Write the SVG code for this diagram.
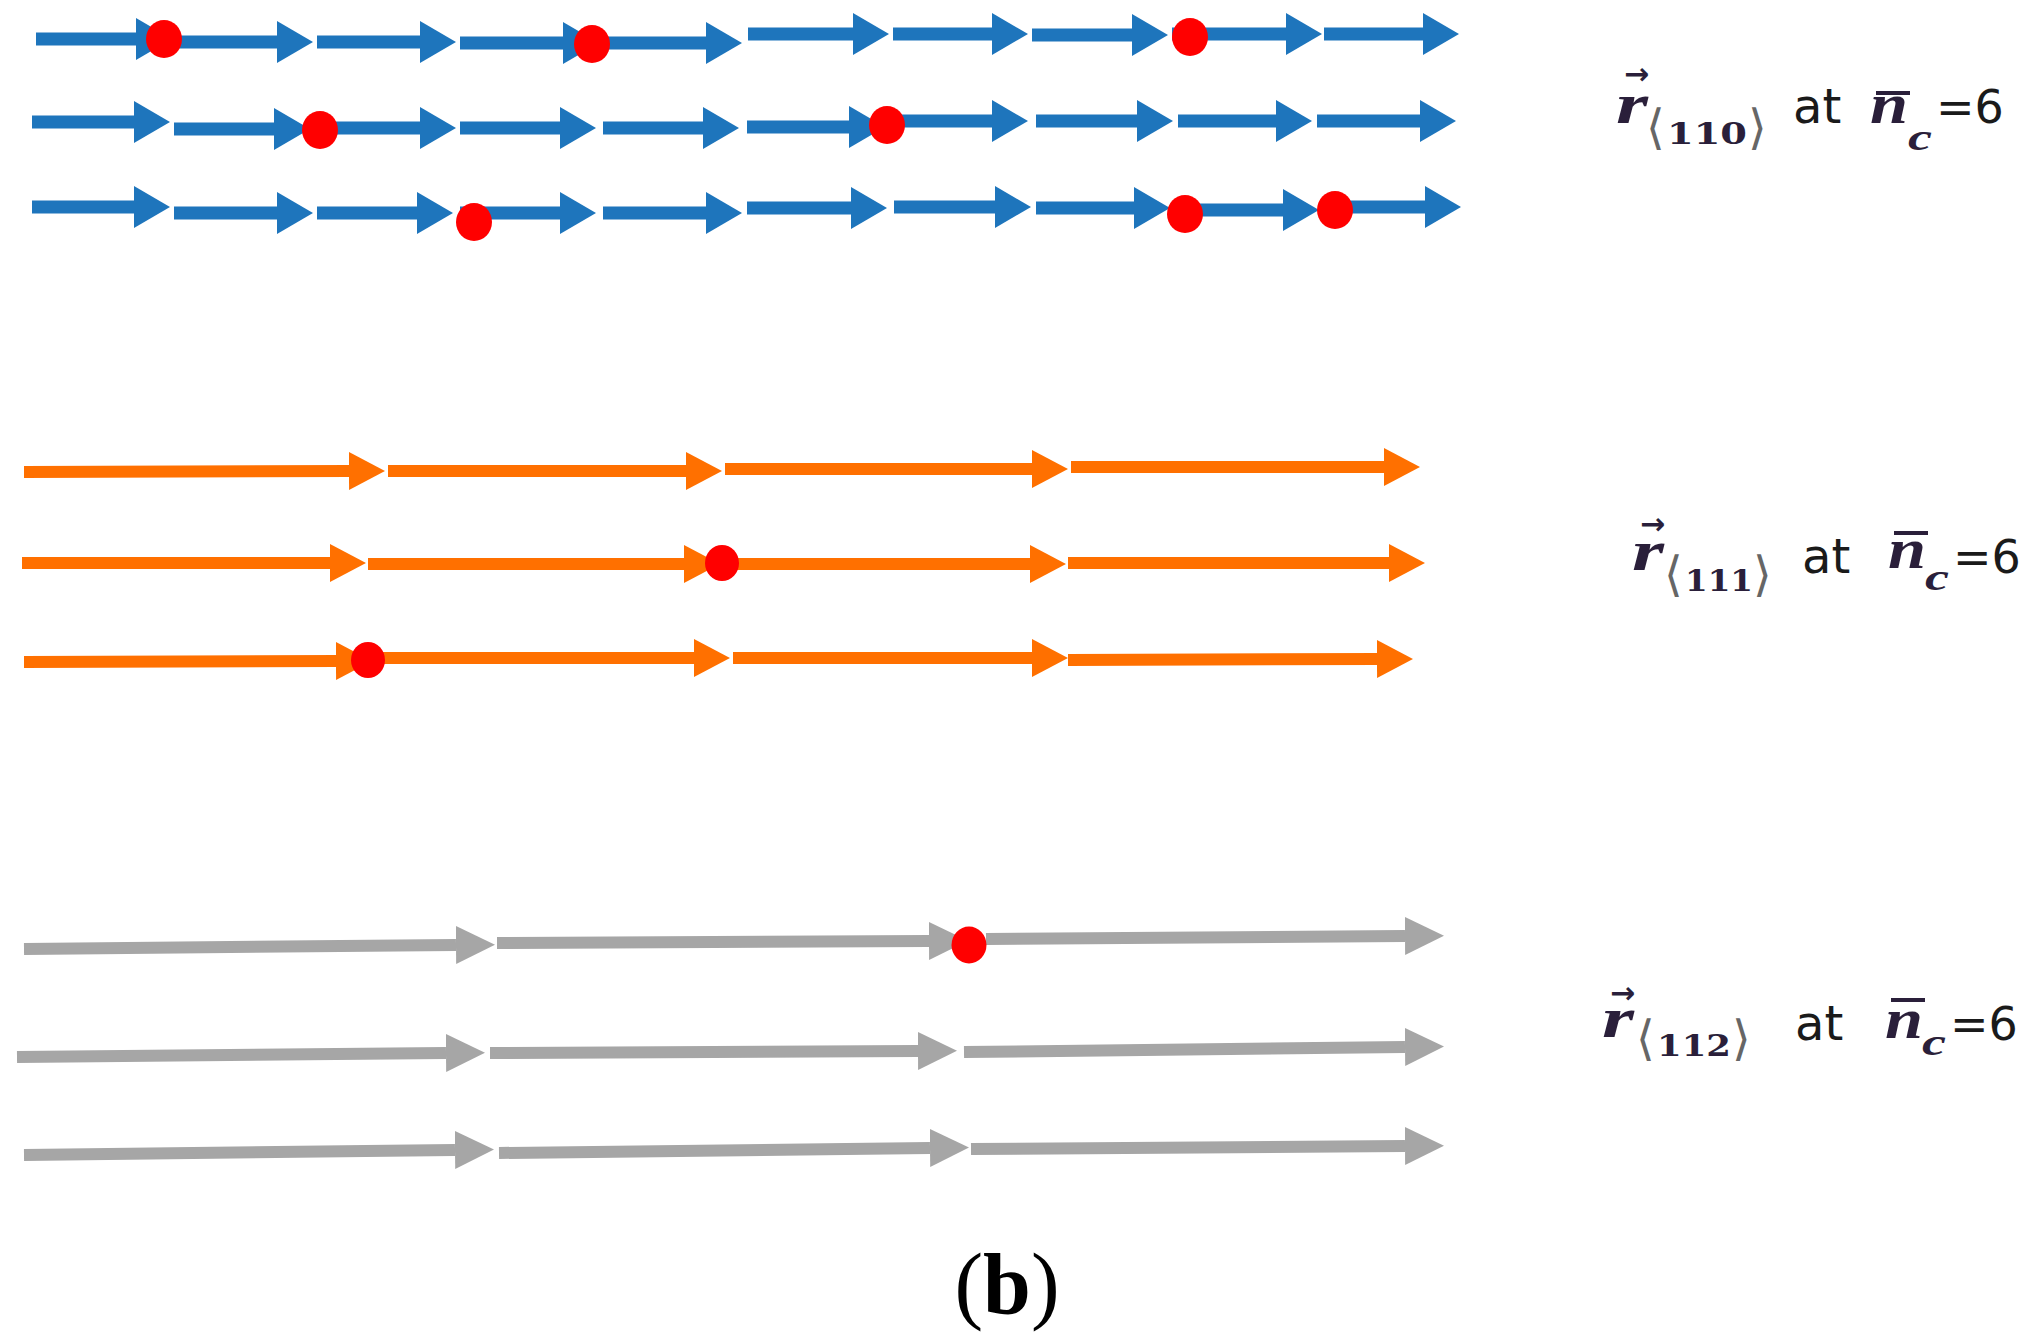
<svg xmlns="http://www.w3.org/2000/svg" width="2042" height="1342" viewBox="0 0 2042 1342">
<defs>
<style>
.b{stroke:#1e75bc;stroke-width:13;fill:none;marker-end:url(#hb)}
.o{stroke:#ff7000;stroke-width:12;fill:none;marker-end:url(#ho)}
.g{stroke:#a6a6a6;stroke-width:12;fill:none;marker-end:url(#hg)}
.dot{fill:#ff0000}
.mi{font-family:"Liberation Serif",serif;font-style:italic;font-weight:bold;fill:#2a1f3a}
.sub{font-family:"DejaVu Serif",serif;font-weight:bold;fill:#2a1f3a}
.br{font-family:"DejaVu Sans",sans-serif;font-weight:normal;fill:#666}
.acc{font-family:"DejaVu Sans",sans-serif;font-weight:bold;fill:#2a1f3a}
.sa{font-family:"DejaVu Sans",sans-serif;fill:#1a1a1a}
.bar{stroke:#2a1f3a;stroke-width:4}
.cap{font-family:"Liberation Serif",serif;fill:#000}
</style>
<marker id="hb" markerUnits="userSpaceOnUse" viewBox="0 0 36 42" refX="0" refY="21" markerWidth="36" markerHeight="42" orient="auto"><path d="M0 0L36 21L0 42Z" fill="#1e75bc"/></marker>
<marker id="ho" markerUnits="userSpaceOnUse" viewBox="0 0 36 38" refX="0" refY="19" markerWidth="36" markerHeight="38" orient="auto"><path d="M0 0L36 19L0 38Z" fill="#ff7000"/></marker>
<marker id="hg" markerUnits="userSpaceOnUse" viewBox="0 0 39 38" refX="0" refY="19" markerWidth="39" markerHeight="38" orient="auto"><path d="M0 0L39 19L0 38Z" fill="#a6a6a6"/></marker>
</defs>
<rect width="2042" height="1342" fill="#fff"/>
<g id="connectors">
<g id="blue-row1">
<line class="b" x1="36" y1="39" x2="136" y2="39"/>
<line class="b" x1="176" y1="42" x2="277" y2="42"/>
<line class="b" x1="317" y1="42" x2="420" y2="42"/>
<line class="b" x1="460" y1="43" x2="563" y2="43"/>
<line class="b" x1="603" y1="43" x2="706" y2="43"/>
<line class="b" x1="748" y1="34" x2="853" y2="34"/>
<line class="b" x1="893" y1="34" x2="992" y2="34"/>
<line class="b" x1="1032" y1="35" x2="1132" y2="35"/>
<line class="b" x1="1172" y1="34" x2="1286" y2="34"/>
<line class="b" x1="1324" y1="34" x2="1423" y2="34"/>
</g>
<g id="blue-row2">
<line class="b" x1="32" y1="122" x2="134" y2="122"/>
<line class="b" x1="174" y1="129" x2="274" y2="129"/>
<line class="b" x1="317" y1="128" x2="420" y2="128"/>
<line class="b" x1="460" y1="128" x2="560" y2="128"/>
<line class="b" x1="603" y1="128" x2="703" y2="128"/>
<line class="b" x1="747" y1="127" x2="849" y2="127"/>
<line class="b" x1="890" y1="121" x2="992" y2="121"/>
<line class="b" x1="1036" y1="121" x2="1137" y2="121"/>
<line class="b" x1="1178" y1="121" x2="1276" y2="121"/>
<line class="b" x1="1317" y1="121" x2="1420" y2="121"/>
</g>
<g id="blue-row3">
<line class="b" x1="32" y1="207" x2="134" y2="207"/>
<line class="b" x1="174" y1="213" x2="277" y2="213"/>
<line class="b" x1="317" y1="213" x2="417" y2="213"/>
<line class="b" x1="460" y1="213" x2="560" y2="213"/>
<line class="b" x1="603" y1="213" x2="706" y2="213"/>
<line class="b" x1="747" y1="208" x2="851" y2="208"/>
<line class="b" x1="894" y1="207" x2="995" y2="207"/>
<line class="b" x1="1036" y1="208" x2="1134" y2="208"/>
<line class="b" x1="1185" y1="210" x2="1283" y2="210"/>
<line class="b" x1="1340" y1="207" x2="1425" y2="207"/>
</g>
<g id="orange-row1">
<line class="o" x1="24" y1="472" x2="349" y2="471"/>
<line class="o" x1="388" y1="471" x2="686" y2="471"/>
<line class="o" x1="725" y1="469" x2="1032" y2="469"/>
<line class="o" x1="1071" y1="467" x2="1384" y2="467"/>
</g>
<g id="orange-row2">
<line class="o" x1="22" y1="563" x2="330" y2="563"/>
<line class="o" x1="368" y1="564" x2="684" y2="564"/>
<line class="o" x1="725" y1="564" x2="1030" y2="564"/>
<line class="o" x1="1068" y1="563" x2="1389" y2="563"/>
</g>
<g id="orange-row3">
<line class="o" x1="24" y1="662" x2="336" y2="661"/>
<line class="o" x1="383" y1="658" x2="694" y2="658"/>
<line class="o" x1="733" y1="658" x2="1032" y2="658"/>
<line class="o" x1="1068" y1="660" x2="1377" y2="659"/>
</g>
<g id="gray-row1">
<line class="g" x1="24" y1="949" x2="456" y2="945"/>
<line class="g" x1="497" y1="943" x2="929" y2="941"/>
<line class="g" x1="986" y1="939" x2="1405" y2="936"/>
</g>
<g id="gray-row2">
<line class="g" x1="17" y1="1057" x2="446" y2="1053"/>
<line class="g" x1="490" y1="1053" x2="918" y2="1051"/>
<line class="g" x1="964" y1="1052" x2="1405" y2="1047"/>
</g>
<g id="gray-row3">
<line class="g" x1="24" y1="1155" x2="455" y2="1150"/>
<line class="g" x1="499" y1="1153" x2="930" y2="1148"/>
<line class="g" x1="971" y1="1149" x2="1405" y2="1146"/>
</g>
</g>
<g id="dots">
<ellipse class="dot" cx="164" cy="39" rx="18" ry="19"/>
<ellipse class="dot" cx="592" cy="44" rx="18" ry="19"/>
<ellipse class="dot" cx="1190" cy="37" rx="18" ry="19"/>
<ellipse class="dot" cx="320" cy="130" rx="18" ry="19"/>
<ellipse class="dot" cx="887" cy="125" rx="18" ry="19"/>
<ellipse class="dot" cx="474" cy="222" rx="18" ry="19"/>
<ellipse class="dot" cx="1185" cy="214" rx="18" ry="19"/>
<ellipse class="dot" cx="1335" cy="210" rx="18" ry="19"/>
<ellipse class="dot" cx="722" cy="563" rx="17" ry="18"/>
<ellipse class="dot" cx="368" cy="660" rx="17" ry="18"/>
<ellipse class="dot" cx="969" cy="945" rx="17.5" ry="18.5"/>
</g>
<g id="label-110">
<text class="acc" x="1624" y="84" font-size="30">→</text>
<text class="mi" x="1616" y="123" font-size="58" textLength="32" lengthAdjust="spacingAndGlyphs">r</text>
<text class="br" x="1646" y="144" font-size="48">⟨</text>
<text class="sub" x="1667" y="144" font-size="30" textLength="80" lengthAdjust="spacingAndGlyphs">110</text>
<text class="br" x="1748" y="144" font-size="48">⟩</text>
<text class="sa" x="1793" y="123" font-size="48">at</text>
<line class="bar" x1="1876" y1="93" x2="1910" y2="93"/>
<text class="mi" x="1870" y="123" font-size="58" textLength="38" lengthAdjust="spacingAndGlyphs">n</text>
<text class="mi" x="1908" y="150" font-size="38" textLength="24" lengthAdjust="spacingAndGlyphs">c</text>
<text class="sa" x="1936" y="123" font-size="46">=6</text>
</g>
<g id="label-111">
<text class="acc" x="1640" y="534" font-size="30">→</text>
<text class="mi" x="1632" y="570" font-size="58" textLength="32" lengthAdjust="spacingAndGlyphs">r</text>
<text class="br" x="1664" y="591" font-size="48">⟨</text>
<text class="sub" x="1685" y="591" font-size="30" textLength="68" lengthAdjust="spacingAndGlyphs">111</text>
<text class="br" x="1753" y="591" font-size="48">⟩</text>
<text class="sa" x="1802" y="573" font-size="48">at</text>
<line class="bar" x1="1894" y1="533" x2="1928" y2="533"/>
<text class="mi" x="1888" y="568" font-size="58" textLength="38" lengthAdjust="spacingAndGlyphs">n</text>
<text class="mi" x="1925" y="590" font-size="38" textLength="24" lengthAdjust="spacingAndGlyphs">c</text>
<text class="sa" x="1953" y="573" font-size="46">=6</text>
</g>
<g id="label-112">
<text class="acc" x="1610" y="1003" font-size="30">→</text>
<text class="mi" x="1602" y="1037" font-size="58" textLength="32" lengthAdjust="spacingAndGlyphs">r</text>
<text class="br" x="1636" y="1055" font-size="48">⟨</text>
<text class="sub" x="1657" y="1056" font-size="30" textLength="74" lengthAdjust="spacingAndGlyphs">112</text>
<text class="br" x="1732" y="1055" font-size="48">⟩</text>
<text class="sa" x="1795" y="1040" font-size="48">at</text>
<line class="bar" x1="1891" y1="1000" x2="1925" y2="1000"/>
<text class="mi" x="1885" y="1038" font-size="58" textLength="38" lengthAdjust="spacingAndGlyphs">n</text>
<text class="mi" x="1922" y="1055" font-size="38" textLength="24" lengthAdjust="spacingAndGlyphs">c</text>
<text class="sa" x="1950" y="1040" font-size="46">=6</text>
</g>
<g id="caption">
<text class="cap" x="1007" y="1313" font-size="86" text-anchor="middle">(<tspan font-weight="bold">b</tspan>)</text>
</g>
</svg>
